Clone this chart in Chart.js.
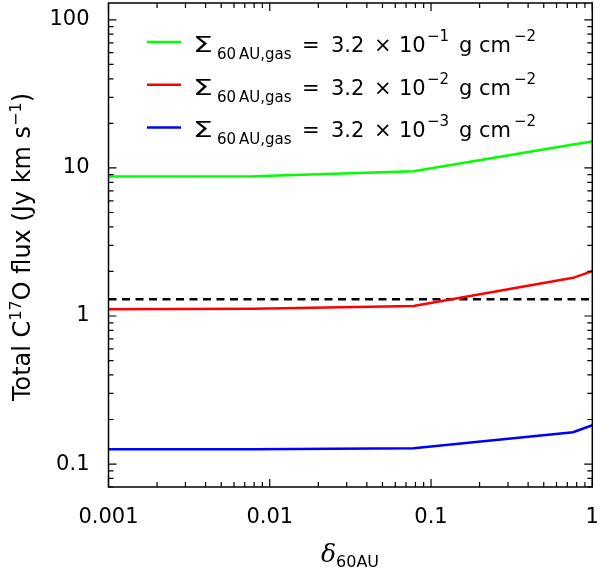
<!DOCTYPE html>
<html>
<head>
<meta charset="utf-8">
<script src="https://cdn.jsdelivr.net/npm/chart.js@4.4.1/dist/chart.umd.min.js"></script>
<style>
  html, body { margin: 0; padding: 0; background: #fff; }
  #wrap { width: 600px; height: 569px; }
</style>
</head>
<body>
<div id="wrap"><canvas id="fluxChart" width="600" height="569"></canvas></div>
<script>
// delta_60AU sample points
const deltaValues = [0.001, 0.008, 0.078, 0.76, 1];
// total C17O flux, Jy km/s, one array per gas surface density
const fluxHigh = [8.75, 8.8, 9.5, 14.4, 15.1];
const fluxMid  = [1.11, 1.12, 1.17, 1.81, 2.01];
const fluxLow  = [0.126, 0.126, 0.128, 0.164, 0.183];
const detectionLimit = 1.3;

const xRange = [0.001, 1];
const yRange = [0.07, 130];
const xTickValues = [0.001, 0.01, 0.1, 1];
const xTickLabels = ['0.001', '0.01', '0.1', '1'];
const yTickValues = [0.1, 1, 10, 100];
const yTickLabels = ['0.1', '1', '10', '100'];

const seriesColors = ['#00ff00', '#ff0000', '#0000ff'];
const seriesExponents = ['\u22121', '\u22122', '\u22123'];

const FONT = '"DejaVu Sans"';

function toXY(arr) {
    return deltaValues.map((x, i) => ({ x: x, y: arr[i] }));
}

// draw a run of text pieces (sub/superscripts) left to right
function drawParts(ctx, x, y, parts, measureOnly) {
    let cx = x;
    parts.forEach(p => {
        ctx.font = p.font;
        if (p.at !== undefined) cx = x + p.at;
        const w = ctx.measureText(p.t).width * (p.sx || 1);
        if (!measureOnly) {
            ctx.save();
            ctx.translate(cx, y + (p.dy || 0));
            if (p.sx) ctx.scale(p.sx, 1);
            ctx.fillText(p.t, 0, 0);
            ctx.restore();
        }
        cx += w + (p.gap || 0);
    });
    return cx - x;
}

function logTicks(min, max) {
    const out = [];
    for (let e = Math.floor(Math.log10(min)); e <= Math.ceil(Math.log10(max)); e++) {
        for (let m = 1; m < 10; m++) {
            const v = m * Math.pow(10, e);
            if (v >= min * 0.999 && v <= max * 1.001) out.push({ v: v, major: m === 1 });
        }
    }
    return out;
}

const frameTicks = {
    id: 'frameTicks',
    afterDraw(chart) {
        const ctx = chart.ctx, ca = chart.chartArea;
        const xs = chart.scales.x, ys = chart.scales.y;
        ctx.save();
        ctx.strokeStyle = '#000';
        ctx.lineWidth = 1.5;
        ctx.strokeRect(ca.left, ca.top, ca.right - ca.left, ca.bottom - ca.top);
        ctx.lineWidth = 1.2;
        ctx.beginPath();
        logTicks(xRange[0], xRange[1]).forEach(t => {
            const px = xs.getPixelForValue(t.v);
            const len = t.major ? 8 : 5;
            ctx.moveTo(px, ca.bottom); ctx.lineTo(px, ca.bottom - len);
            ctx.moveTo(px, ca.top); ctx.lineTo(px, ca.top + len);
        });
        logTicks(yRange[0], yRange[1]).forEach(t => {
            const py = ys.getPixelForValue(t.v);
            const len = t.major ? 8 : 5;
            ctx.moveTo(ca.left, py); ctx.lineTo(ca.left + len, py);
            ctx.moveTo(ca.right, py); ctx.lineTo(ca.right - len, py);
        });
        ctx.stroke();
        ctx.restore();
    }
};

const texts = {
    id: 'texts',
    afterDraw(chart) {
        const ctx = chart.ctx;
        ctx.save();
        ctx.fillStyle = '#000';
        ctx.textBaseline = 'alphabetic';
        ctx.textAlign = 'left';

        // legend
        seriesColors.forEach((col, i) => {
            const yb = 52 + i * 42.7;
            ctx.strokeStyle = col;
            ctx.lineWidth = 2.5;
            ctx.beginPath();
            ctx.moveTo(147, yb - 10);
            ctx.lineTo(181, yb - 10);
            ctx.stroke();
            drawParts(ctx, 193, yb, [
                { t: '\u03A3', font: '21px ' + FONT, sx: 1.5, at: 0 },
                { t: '60\u2009AU,gas', font: '15px ' + FONT, dy: 7, at: 24 },
                { t: '=', font: '21px ' + FONT, at: 109 },
                { t: '3.2', font: '21px ' + FONT, at: 138 },
                { t: '\u00D7', font: '21px ' + FONT, at: 181 },
                { t: '10', font: '21px ' + FONT, at: 206 },
                { t: seriesExponents[i], font: '15px ' + FONT, dy: -11, at: 234 },
                { t: 'g', font: '21px ' + FONT, at: 266 },
                { t: 'cm', font: '21px ' + FONT, at: 286, gap: 3 },
                { t: '\u22122', font: '15px ' + FONT, dy: -11 }
            ]);
        });

        // y axis title
        const yParts = [
            { t: 'Total C', font: '24px ' + FONT },
            { t: '17', font: '16px ' + FONT, dy: -9 },
            { t: 'O flux (Jy km s', font: '24px ' + FONT },
            { t: '\u22121', font: '16px ' + FONT, dy: -9 },
            { t: ')', font: '24px ' + FONT }
        ];
        ctx.save();
        ctx.translate(30, 247);
        ctx.rotate(-Math.PI / 2);
        const w = drawParts(ctx, 0, 0, yParts, true);
        drawParts(ctx, -w / 2, 0, yParts);
        ctx.restore();

        // x axis title
        drawParts(ctx, 321, 562, [
            { t: '\u03B4', font: 'italic 25px "DejaVu Serif"' },
            { t: '60AU', font: '16px ' + FONT, dy: 5 }
        ]);
        ctx.restore();
    }
};

const ctx = document.getElementById('fluxChart').getContext('2d');
const fluxChart = new Chart(ctx, {
    type: 'line',
    data: {
        datasets: [
            { data: toXY(fluxHigh), borderColor: seriesColors[0], borderWidth: 2.5 },
            { data: toXY(fluxMid), borderColor: seriesColors[1], borderWidth: 2.5 },
            { data: toXY(fluxLow), borderColor: seriesColors[2], borderWidth: 2.5 },
            { data: [{ x: xRange[0], y: detectionLimit }, { x: xRange[1], y: detectionLimit }],
              borderColor: '#000', borderWidth: 2.5, borderDash: [8, 5.5] }
        ]
    },
    options: {
        responsive: false,
        animation: false,
        layout: { padding: { left: 0, right: 7.7, top: 3, bottom: 0 } },
        elements: { point: { radius: 0 }, line: { tension: 0, fill: false } },
        plugins: { legend: { display: false }, tooltip: { enabled: false } },
        scales: {
            x: {
                type: 'logarithmic', min: xRange[0], max: xRange[1],
                grid: { display: false, drawTicks: false }, border: { display: false },
                ticks: { autoSkip: false, maxRotation: 0, padding: 18, color: '#000',
                         font: { family: 'DejaVu Sans', size: 21 },
                         callback: (v, i) => xTickLabels[i] },
                afterBuildTicks: s => { s.ticks = xTickValues.map(v => ({ value: v })); },
                afterFit: s => { s.height = 82; s.paddingLeft = 0; s.paddingRight = 0; }
            },
            y: {
                type: 'logarithmic', min: yRange[0], max: yRange[1],
                grid: { display: false, drawTicks: false }, border: { display: false },
                ticks: { autoSkip: false, padding: 19, color: '#000',
                         font: { family: 'DejaVu Sans', size: 21 },
                         callback: (v, i) => yTickLabels[i] },
                afterBuildTicks: s => { s.ticks = yTickValues.map(v => ({ value: v })); },
                afterFit: s => { s.width = 108.5; s.paddingTop = 0; s.paddingBottom = 0; }
            }
        }
    },
    plugins: [frameTicks, texts]
});
</script>
</body>
</html>
